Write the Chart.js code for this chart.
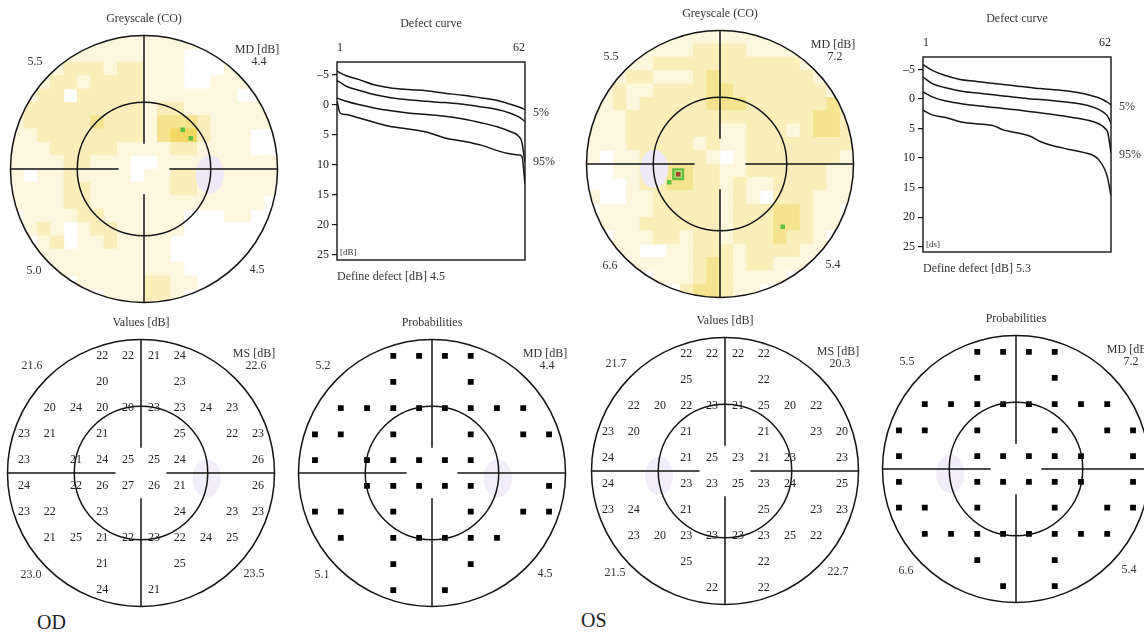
<!DOCTYPE html>
<html>
<head>
<meta charset="utf-8">
<script src="https://cdn.jsdelivr.net/npm/chart.js@4.4.1/dist/chart.umd.min.js"></script>
<style>
  html, body { margin: 0; padding: 0; background: #fff; }
  body { width: 1144px; height: 635px; overflow: hidden; position: relative;
         font-family: "Liberation Serif", "DejaVu Serif", serif; }
  canvas { position: absolute; }
  .eye { position: absolute; font-size: 20px; color: #222; line-height: 24px; }
</style>
</head>
<body>
<div class="eye" style="left:37px;top:610px">OD</div>
<div class="eye" style="left:581px;top:608px">OS</div>
<script>
// ---- data ----
// test location grid (degrees), left->right and top->bottom
const gridDeg = [-26.3, -20.5, -14.6, -8.7, -2.9, 2.9, 8.7, 14.6, 20.5, 26.3];

// sensitivity values [dB], rows top -> bottom, null = no stimulus shown
const odValues = [
  [null, null, null, 22, 22, 21, 24, null, null, null],
  [null, null, null, 20, null, null, 23, null, null, null],
  [null, 20, 24, 20, 20, 23, 23, 24, 23, null],
  [23, 21, null, 21, null, null, 25, null, 22, 23],
  [23, null, 21, 24, 25, 25, 24, null, null, 26],
  [24, null, 22, 26, 27, 26, 21, null, null, 26],
  [23, 22, null, 23, null, null, 24, null, 23, 23],
  [null, 21, 25, 21, 22, 23, 22, 24, 25, null],
  [null, null, null, 21, null, null, 25, null, null, null],
  [null, null, null, 24, null, 21, null, null, null, null]
];
const osValues = [
  [null, null, null, 22, 22, 22, 22, null, null, null],
  [null, null, null, 25, null, null, 22, null, null, null],
  [null, 22, 20, 22, 23, 21, 25, 20, 22, null],
  [23, 20, null, 21, null, null, 21, null, 23, 20],
  [24, null, null, 21, 25, 23, 21, 23, null, 23],
  [24, null, null, 23, 23, 25, 23, 24, null, 25],
  [23, 24, null, 21, null, null, 25, null, 23, 23],
  [null, 23, 20, 23, 23, 23, 23, 25, 22, null],
  [null, null, null, 25, null, null, 22, null, null, null],
  [null, null, null, null, 22, null, 22, null, null, null]
];

// probability symbols (1 = square shown)
const odProb = ["0001111000", "0001001000", "0111111110", "1101001011", "1011111000",
                "0011111001", "1101001011", "0101111100", "0001001000", "0001010000"];
const osProb = ["0001111000", "0001001000", "0111111110", "1101001011", "1001111101",
                "1001111101", "1101001011", "0111111110", "0001001000", "0000101000"];

// greyscale (CO) shade levels, 3 degree cells, rows top -> bottom
const odGrey = [
  "00000011111111000000", "00001111111110000000", "00112221221110001100", "01122122221110011110",
  "11220222221111111001", "12222222221221111111", "12222232221333211111", "11222222221344211100",
  "11122222111122111100", "11112211100111111111", "10112111101122111111", "11112211111122111111",
  "11112211111111111110", "01111221111110001100", "01210122111110000000", "00120112111100000000",
  "00111111111100000000", "00011111111110000000", "00000111112211000000", "00000001112210000000"
];
const osGrey = [
  "00000011111111000000", "00001111222211110000", "00111222222222221100", "01122111232222222110",
  "11211222233222222211", "11212222233322222231", "11122222222222222332", "11122222221122212332",
  "11122222121122222222", "10112222210122222221", "00112233221122222211", "00012233221211222211",
  "10011222221210222111", "01111222221222332110", "01112222221222332110", "00111221221222322100",
  "00110011222122221100", "00011111232122111000", "00000111232111100000", "00000002332110000000"
];
// small marked spots in the greyscale (degrees)
const odSpots = [{ x: 8.7, y: 8.8, t: 'g' }, { x: 10.5, y: 6.9, t: 'g' }];
const osSpots = [{ x: -9.4, y: -2.3, t: 'G' }, { x: -9.4, y: -2.3, t: 'l' }, { x: -9.4, y: -2.3, t: 'r' },
                 { x: -11.4, y: -4.1, t: 'g' }, { x: 14.1, y: -14.1, t: 'g' }];

const blindOD = [14.8, -1.2];
const blindOS = [-14.8, -1.1];

// corner indices: top-left, top-right, bottom-left, bottom-right
const odGreyCorners = ['5.5', '4.4', '5.0', '4.5'];
const osGreyCorners = ['5.5', '7.2', '6.6', '5.4'];
const odValCorners = ['21.6', '22.6', '23.0', '23.5'];
const osValCorners = ['21.7', '20.3', '21.5', '22.7'];
const odProbCorners = ['5.2', '4.4', '5.1', '4.5'];
const osProbCorners = ['5.5', '7.2', '6.6', '5.4'];

// defect curves (rank 1..62, dB)
const defectTicks = [-5, 0, 5, 10, 15, 20, 25];
const odRank = [1, 2, 4, 8, 13, 18, 24, 30, 36, 42, 48, 53, 57, 60, 61, 62];
const odTop = [-5.6, -5.3, -4.8, -4.2, -3.3, -2.8, -2.5, -2.3, -1.9, -1.55, -1.1, -0.67, -0.1, 0.4, 0.6, 0.83];
const odP5 = [-4.0, -3.7, -3.05, -2.4, -1.7, -1.2, -0.8, -0.55, -0.33, -0.05, 0.4, 0.83, 1.4, 2.05, 2.4, 2.8];
const odP95 = [-1.1, -0.9, -0.55, 0.0, 0.55, 1.0, 1.4, 1.67, 1.95, 2.4, 3.05, 3.7, 4.45, 5.3, 6.3, 9.7];
const odPatient = [-0.6, 1.4, 1.67, 2.2, 2.95, 3.6, 4.05, 4.55, 5.55, 6.1, 6.8, 7.67, 8.2, 8.4, 8.6, 13.3];
const osRank = [1, 4, 8, 13, 18, 24, 27, 30, 33, 36, 39, 42, 48, 53, 56, 58, 60, 61, 62];
const osTop = [-5.8, -4.83, -4.0, -3.3, -3.0, -2.6, -2.45, -2.26, -2.1, -1.93, -1.76, -1.64, -1.36, -0.92, -0.5, -0.2, 0.3, 0.6, 1.0];
const osP5 = [-3.7, -2.6, -1.93, -1.36, -1.03, -0.7, -0.52, -0.35, -0.18, 0.0, 0.1, 0.2, 0.54, 0.93, 1.35, 1.75, 2.43, 3.0, 4.1];
const osP95 = [-1.2, -0.35, 0.3, 0.76, 1.1, 1.43, 1.6, 1.77, 1.95, 2.16, 2.35, 2.55, 3.0, 3.44, 3.8, 4.2, 4.95, 5.8, 9.1];
const osPatient = [1.9, 2.7, 3.1, 3.84, 4.2, 4.56, 5.23, 5.6, 5.9, 6.36, 7.2, 7.75, 8.5, 9.04, 9.48, 10.27, 11.95, 13.6, 16.4];

// ---- styles ----
const FONT = '"Liberation Serif", "DejaVu Serif", serif';
const INK = '#151515';
const R_PX = 133.5;
const greyColors = { '1': '#fdf7de', '2': '#faeebb', '3': '#f6e38f', '4': '#f1d862' };
const spotStyle = { g: ['#5cc43c', 3.2], G: ['#5fbf3b', 8.5], l: ['#a9dc70', 5.5], r: ['#a8442c', 3.2] };

Chart.defaults.font.family = FONT;
Chart.defaults.font.size = 12;
Chart.defaults.color = '#222';

function makeCanvas(left, top, w, h) {
  const c = document.createElement('canvas');
  c.width = w; c.height = h;
  c.style.left = left + 'px'; c.style.top = top + 'px';
  c.style.width = w + 'px'; c.style.height = h + 'px';
  document.body.appendChild(c);
  return c;
}

function valuePoints(rows) {
  const pts = [];
  rows.forEach((row, r) => row.forEach((v, c) => {
    if (v !== null) pts.push({ x: gridDeg[c], y: gridDeg[9 - r], v: v });
  }));
  return pts;
}
function probPoints(rows) {
  const pts = [];
  rows.forEach((row, r) => row.split('').forEach((s, c) => {
    if (s === '1') pts.push({ x: gridDeg[c], y: gridDeg[9 - r] });
  }));
  return pts;
}
function greyCells(rows) {
  const pts = [];
  rows.forEach((row, j) => row.split('').forEach((s, i) => {
    if (s !== '0') pts.push({ x: -28.5 + 3 * i, y: 28.5 - 3 * j, lvl: s });
  }));
  return pts;
}

// frame of a field plot: circles, cross, blind spot, labels
const fieldFrame = {
  id: 'fieldFrame',
  beforeDatasetDraw(chart, args, o) {
    if (o.clipSet !== args.index) return;
    const { x, y } = chart.scales;
    const ctx = chart.ctx;
    ctx.save();
    ctx.beginPath();
    ctx.arc(x.getPixelForValue(0), y.getPixelForValue(0), x.getPixelForValue(30) - x.getPixelForValue(0), 0, Math.PI * 2);
    ctx.clip();
  },
  afterDatasetDraw(chart, args, o) {
    if (o.clipSet === args.index) chart.ctx.restore();
  },
  afterDatasetsDraw(chart, args, o) {
    const { ctx, scales: { x, y } } = chart;
    const cx = x.getPixelForValue(0), cy = y.getPixelForValue(0);
    const k = x.getPixelForValue(1) - cx;
    ctx.save();
    // blind spot
    ctx.fillStyle = o.clipSet !== undefined ? '#efe9f8' : '#f2edfb';
    ctx.beginPath();
    ctx.ellipse(x.getPixelForValue(o.blind[0]), y.getPixelForValue(o.blind[1]), 3.15 * k, 4.3 * k, 0, 0, Math.PI * 2);
    ctx.fill();
    // circles and cross
    ctx.strokeStyle = INK;
    ctx.lineWidth = 1.5;
    [30, 15].forEach(r => { ctx.beginPath(); ctx.arc(cx, cy, r * k, 0, Math.PI * 2); ctx.stroke(); });
    ctx.beginPath();
    ctx.moveTo(cx, cy - 30 * k); ctx.lineTo(cx, cy - 5.7 * k);
    ctx.moveTo(cx, cy + 5.7 * k); ctx.lineTo(cx, cy + 30 * k);
    ctx.moveTo(cx - 30 * k, cy); ctx.lineTo(cx - 5.7 * k, cy);
    ctx.moveTo(cx + 5.7 * k, cy); ctx.lineTo(cx + 30 * k, cy);
    ctx.stroke();
    // value labels
    ctx.fillStyle = '#222';
    ctx.font = '12px ' + FONT;
    ctx.textAlign = 'center';
    ctx.textBaseline = 'middle';
    if (o.textSet !== undefined) {
      const ds = chart.data.datasets[o.textSet];
      chart.getDatasetMeta(o.textSet).data.forEach((el, i) => ctx.fillText(String(ds.data[i].v), el.x, el.y));
    }
    // title and corner numbers
    ctx.fillStyle = '#333';
    ctx.fillText(o.title, cx, cy - 150);
    ctx.fillText(o.corners[0], cx - 109, cy - 107);
    ctx.fillText(o.header, cx + 113, cy - 119);
    ctx.fillText(o.corners[1], cx + 115, cy - 107);
    ctx.fillText(o.corners[2], cx - 110, cy + 102);
    ctx.fillText(o.corners[3], cx + 113, cy + 101);
    ctx.restore();
  }
};

function polarChart(cx, cy, datasets, frame) {
  const c = makeCanvas(cx - 150, cy - 170, 300, 320);
  const pad = 150 - R_PX;
  return new Chart(c, {
    type: 'scatter',
    data: { datasets: datasets },
    options: {
      responsive: false,
      animation: false,
      events: [],
      layout: { padding: { left: pad, right: pad, top: 170 - R_PX, bottom: pad } },
      scales: {
        x: { type: 'linear', min: -30, max: 30, display: false },
        y: { type: 'linear', min: -30, max: 30, display: false }
      },
      plugins: { legend: { display: false }, tooltip: { enabled: false }, fieldFrame: frame }
    },
    plugins: [fieldFrame]
  });
}

// dataset 0 is drawn last (on top): spots first, map cells second
function greyDatasets(rows, spots) {
  const cells = greyCells(rows);
  return [
    {
      data: spots,
      pointStyle: 'rect',
      pointBorderWidth: 0,
      pointBackgroundColor: spots.map(p => spotStyle[p.t][0]),
      pointRadius: spots.map(p => spotStyle[p.t][1])
    },
    {
      data: cells,
      pointStyle: 'rect',
      pointBorderWidth: 0,
      pointBackgroundColor: cells.map(p => greyColors[p.lvl]),
      pointRadius: ctx => {
        const s = ctx.chart.scales.x;
        return (Math.abs(s.getPixelForValue(3) - s.getPixelForValue(0)) + 0.7) / Math.SQRT2;
      }
    }
  ];
}

// greyscale maps
polarChart(143.5, 168.5, greyDatasets(odGrey, odSpots),
  { title: 'Greyscale (CO)', header: 'MD [dB]', corners: odGreyCorners, blind: blindOD, clipSet: 1 });
polarChart(720, 163.5, greyDatasets(osGrey, osSpots),
  { title: 'Greyscale (CO)', header: 'MD [dB]', corners: osGreyCorners, blind: blindOS, clipSet: 1 });

// values
polarChart(141, 472.5, [{ data: valuePoints(odValues), pointRadius: 0 }],
  { title: 'Values [dB]', header: 'MS [dB]', corners: odValCorners, blind: blindOD, textSet: 0 });
polarChart(724.5, 471, [{ data: valuePoints(osValues), pointRadius: 0 }],
  { title: 'Values [dB]', header: 'MS [dB]', corners: osValCorners, blind: blindOS, textSet: 0 });

// probabilities
function probSet(rows) {
  return [{ data: probPoints(rows), pointStyle: 'rect', pointRadius: 4.1, pointBorderWidth: 0, pointBackgroundColor: '#000' }];
}
polarChart(431.5, 472.5, probSet(odProb),
  { title: 'Probabilities', header: 'MD [dB]', corners: odProbCorners, blind: blindOD });
polarChart(1015.5, 468.5, probSet(osProb),
  { title: 'Probabilities', header: 'MD [dB]', corners: osProbCorners, blind: blindOS });

// defect curves
const defectFrame = {
  id: 'defectFrame',
  afterDraw(chart, args, o) {
    const { ctx, chartArea: a, scales: { y } } = chart;
    ctx.save();
    ctx.strokeStyle = INK;
    ctx.lineWidth = 1.4;
    ctx.strokeRect(a.left, a.top, a.width, a.height);
    ctx.fillStyle = '#333';
    ctx.font = '12px ' + FONT;
    ctx.textBaseline = 'middle';
    ctx.textAlign = 'center';
    ctx.fillText('Defect curve', (a.left + a.right) / 2, a.top - 38);
    ctx.textAlign = 'left';
    ctx.fillText('5%', a.right + 8, y.getPixelForValue(1.3));
    ctx.fillText('95%', a.right + 8, y.getPixelForValue(9.5));
    ctx.fillText(o.footer, a.left, a.bottom + 17);
    ctx.font = '9px ' + FONT;
    ctx.fillText(o.unit, a.left + 3, a.bottom - 7);
    ctx.restore();
  }
};

function defectChart(left, w, area, rank, series, frame) {
  const c = makeCanvas(left, 0, w, 300);
  return new Chart(c, {
    type: 'line',
    data: {
      datasets: series.map(s => ({
        data: rank.map((r, i) => ({ x: r, y: s[i] })),
        borderColor: INK,
        borderWidth: 1.5,
        pointRadius: 0,
        fill: false,
        cubicInterpolationMode: 'monotone'
      }))
    },
    options: {
      responsive: false,
      animation: false,
      events: [],
      layout: { padding: { left: area.left - 30, top: area.top - 20, right: w - area.right, bottom: 300 - area.bottom } },
      scales: {
        x: {
          type: 'linear', position: 'top', min: 1, max: 62,
          afterFit: s => { s.height = 20; },
          afterBuildTicks: s => { s.ticks = [{ value: 1 }, { value: 62 }]; },
          grid: { display: false, drawTicks: false },
          border: { display: false },
          ticks: { align: 'inner', padding: 7, maxRotation: 0, autoSkip: false, color: '#222' }
        },
        y: {
          type: 'linear', reverse: true, min: -7.1, max: 25.9,
          afterFit: s => { s.width = 30; },
          afterBuildTicks: s => { s.ticks = defectTicks.map(v => ({ value: v })); },
          grid: { drawOnChartArea: false, drawTicks: true, tickLength: 5, color: INK, lineWidth: 1.2 },
          border: { display: false },
          ticks: { padding: 3, color: '#222', callback: v => String(v).replace('-', '\u2013') }
        }
      },
      plugins: { legend: { display: false }, tooltip: { enabled: false }, defectFrame: frame }
    },
    plugins: [defectFrame]
  });
}

defectChart(280, 290, { left: 57, top: 62, right: 245, bottom: 260 }, odRank,
  [odTop, odP5, odP95, odPatient], { footer: 'Define defect [dB] 4.5', unit: '[dB]' });
defectChart(860, 284, { left: 63, top: 57, right: 251, bottom: 252 }, osRank,
  [osTop, osP5, osP95, osPatient], { footer: 'Define defect [dB] 5.3', unit: '[ds]' });
</script>
</body>
</html>
